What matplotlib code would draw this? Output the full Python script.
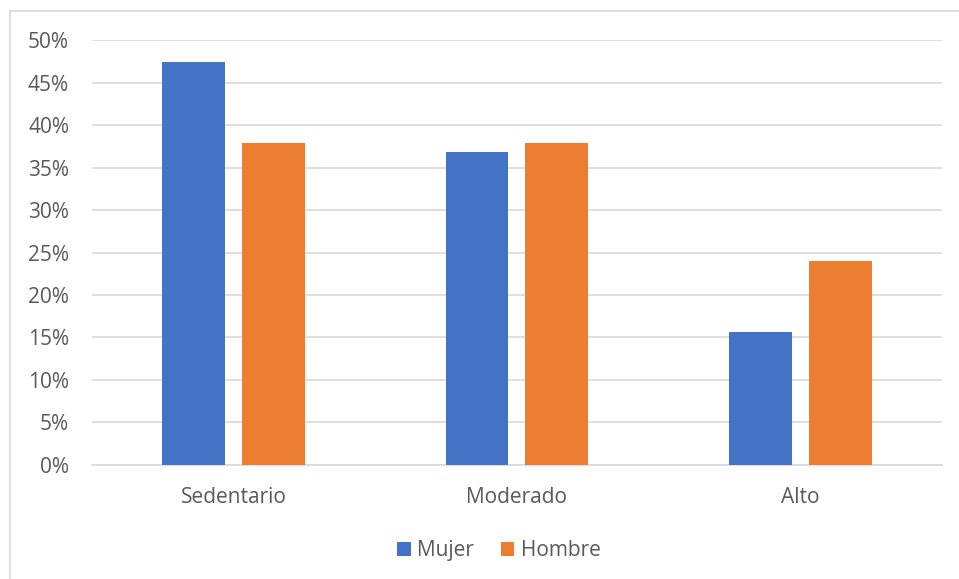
import matplotlib
matplotlib.use("Agg")
import matplotlib.pyplot as plt
from matplotlib.lines import Line2D
import numpy as np

categories = ["Sedentario", "Moderado", "Alto"]
mujer = [47.4, 36.8, 15.6]
hombre = [37.9, 37.9, 24.0]
series_names = ["Mujer", "Hombre"]
y_ticks = [0, 5, 10, 15, 20, 25, 30, 35, 40, 45, 50]

plt.rcParams['font.family'] = ['Open Sans', 'DejaVu Sans']
text_color = "#595959"
grid_color = "#D9D9D9"

fig = plt.figure(figsize=(9.59, 5.79), dpi=100)
ax = fig.add_axes([0.0959, 0.1969, 0.8864, 0.734])

x = np.arange(len(categories))
width = 0.222
offset = 0.141
ax.bar(x - offset, mujer, width=width, color="#4472C4", label=series_names[0], zorder=3)
ax.bar(x + offset, hombre, width=width, color="#ED7D31", label=series_names[1], zorder=3)

ax.set_xlim(-0.5, len(categories) - 0.5)
ax.set_ylim(0, 50)
ax.set_yticks(y_ticks)
ax.set_yticklabels([f"{t}%" for t in y_ticks])
ax.set_xticks(x)
ax.set_xticklabels(categories)
ax.yaxis.grid(True, color=grid_color, linewidth=1.2, zorder=0)
ax.tick_params(axis="both", length=0, labelsize=15, colors=text_color)
ax.tick_params(axis="x", pad=15.5)
ax.tick_params(axis="y", pad=16.5)
for side in ["top", "right", "left"]:
    ax.spines[side].set_visible(False)
ax.spines["bottom"].set_color(grid_color)
ax.spines["bottom"].set_linewidth(1.2)

# chart frame (left and top edges visible)
fig.add_artist(Line2D([0.0105, 0.0105], [0.0, 0.981], color=grid_color, linewidth=1.2))
fig.add_artist(Line2D([0.0105, 1.0], [0.981, 0.981], color=grid_color, linewidth=1.2))

leg = fig.legend(loc="center", bbox_to_anchor=(0.52, 0.049), ncol=2, frameon=False,
                 fontsize=15, handlelength=0.65, handleheight=0.65, handletextpad=0.3,
                 columnspacing=1.3)
for t in leg.get_texts():
    t.set_color(text_color)

fig.savefig("out.png", dpi=100)
